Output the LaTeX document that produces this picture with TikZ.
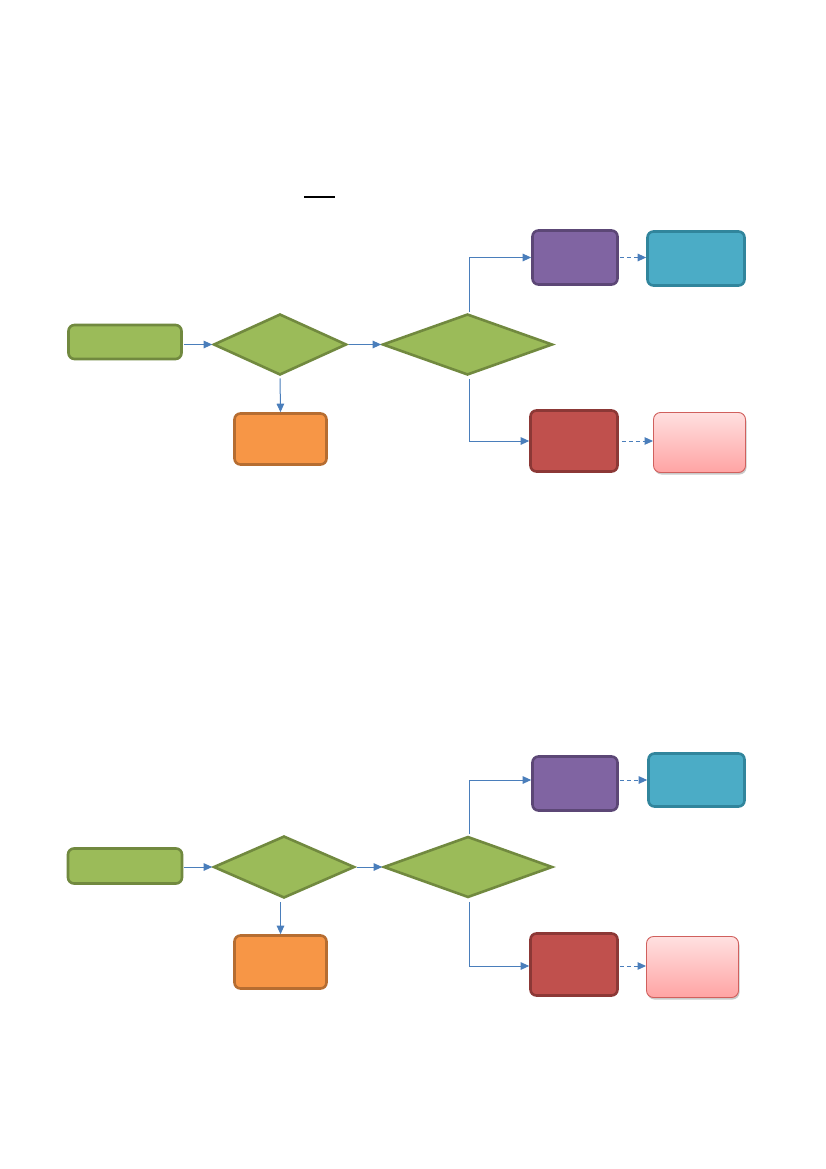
\documentclass[tikz,border=0pt]{standalone}
\usetikzlibrary{shapes.geometric,arrows.meta,shadows}
\definecolor{gfill}{HTML}{9BBB59}
\definecolor{gline}{HTML}{71893F}
\definecolor{ofill}{HTML}{F79646}
\definecolor{oline}{HTML}{B66D31}
\definecolor{pfill}{HTML}{8064A2}
\definecolor{pline}{HTML}{5C4776}
\definecolor{tfill}{HTML}{4BACC6}
\definecolor{tline}{HTML}{31859C}
\definecolor{rfill}{HTML}{C0504D}
\definecolor{rline}{HTML}{8C3836}
\definecolor{ktop}{HTML}{FFE0E0}
\definecolor{kbot}{HTML}{FFA3A3}
\definecolor{kline}{HTML}{D0605D}
\definecolor{cblue}{HTML}{4A7EBB}
\tikzset{
  box/.style={rectangle, rounded corners=6pt, line width=2.6pt, inner sep=0pt},
  gbox/.style={box, fill=gfill, draw=gline},
  obox/.style={box, fill=ofill, draw=oline},
  pbox/.style={box, fill=pfill, draw=pline},
  tbox/.style={box, fill=tfill, draw=tline},
  rbox/.style={box, fill=rfill, draw=rline},
  kbox/.style={rectangle, rounded corners=7pt, line width=0.9pt, inner sep=0pt, draw=kline,
    top color=ktop, bottom color=kbot,
    drop shadow={shadow xshift=1pt, shadow yshift=-2pt, opacity=0.35, fill=black!60}},
  dec/.style={diamond, inner sep=0pt, line width=2.6pt, fill=gfill, draw=gline},
  conn/.style={draw=cblue, line width=1pt, -{Triangle[length=8.5pt,width=7.5pt]}},
  dconn/.style={conn, dashed, dash pattern=on 4pt off 3pt}
}
\begin{document}
\begin{tikzpicture}[x=1pt,y=-1pt]
\useasboundingbox (0,0) rectangle (826,1169);
\fill[white] (0,0) rectangle (826,1169);
% small line
\coordinate (l1) at (304,197);
\coordinate (l2) at (335,197);
\draw[line width=1.5pt, black] (l1) -- (l2);

% ---------- top diagram ----------
\node[gbox, minimum width=113pt, minimum height=34pt] (a1) at (125,342) {};
\node[dec, minimum width=133pt, minimum height=61pt] (d11) at (280,344.5) {};
\node[obox, minimum width=92pt, minimum height=51pt] (o1) at (280.5,439) {};
\node[dec, minimum width=170pt, minimum height=61pt] (d21) at (467.5,344.5) {};
\node[pbox, minimum width=85pt, minimum height=54pt] (p1) at (575,257.5) {};
\node[tbox, minimum width=97pt, minimum height=54pt] (t1) at (696,258.5) {};
\node[rbox, minimum width=87pt, minimum height=61pt] (r1) at (574,441) {};
\node[kbox, minimum width=92pt, minimum height=60pt] (k1) at (699.5,442.5) {};

\coordinate (u1) at ([xshift=1.5pt]d21.north);
\coordinate (v1) at ([xshift=1.5pt]d21.south);

\draw[conn, shorten <=1pt] (a1.east |- d11.west) -- (d11.west);
\draw[conn, shorten <=2pt] (d11.south) -- (o1.north);
\draw[conn, shorten <=1pt] (d11.east) -- (d21.west);
\draw[conn, shorten <=1pt] (u1) |- (p1.west);
\draw[conn, shorten <=3pt] (v1) |- (r1.west);
\draw[dconn, shorten <=1pt] (p1.east) -- (t1.west |- p1.east);
\draw[dconn, shorten <=3pt] (r1.east) -- (k1.west |- r1.east);

% ---------- bottom diagram ----------
\node[gbox, minimum width=114pt, minimum height=35pt] (a2) at (125,866) {};
\node[dec, minimum width=141pt, minimum height=62pt] (d12) at (284,867) {};
\node[obox, minimum width=92pt, minimum height=53pt] (o2) at (280.5,962) {};
\node[dec, minimum width=169pt, minimum height=61pt] (d22) at (468,867) {};
\node[pbox, minimum width=85pt, minimum height=54pt] (p2) at (575,783.5) {};
\node[tbox, minimum width=96pt, minimum height=53pt] (t2) at (696.5,780) {};
\node[rbox, minimum width=87pt, minimum height=62pt] (r2) at (574,964.5) {};
\node[kbox, minimum width=92pt, minimum height=61pt] (k2) at (692.5,967) {};

\coordinate (pw2) at ([yshift=3.5pt]p2.west);
\coordinate (pe2) at ([yshift=3.5pt]p2.east);
\coordinate (rw2) at ([yshift=-1.5pt]r2.west);
\coordinate (re2) at ([yshift=-1.5pt]r2.east);
\coordinate (u2) at ([xshift=1pt]d22.north);
\coordinate (v2) at ([xshift=1pt]d22.south);

\draw[conn, shorten <=1pt] (a2.east |- d12.west) -- (d12.west);
\draw[conn, shorten <=3pt] (d12.south -| o2.north) -- (o2.north);
\draw[conn, shorten <=1pt] (d12.east) -- (d22.west);
\draw[conn, shorten <=1pt] (u2) |- (pw2);
\draw[conn, shorten <=3pt] (v2) |- (rw2);
\draw[dconn, shorten <=1pt] (pe2) -- (t2.west);
\draw[dconn, shorten <=1pt] (re2) -- (k2.west |- re2);
\end{tikzpicture}
\end{document}
